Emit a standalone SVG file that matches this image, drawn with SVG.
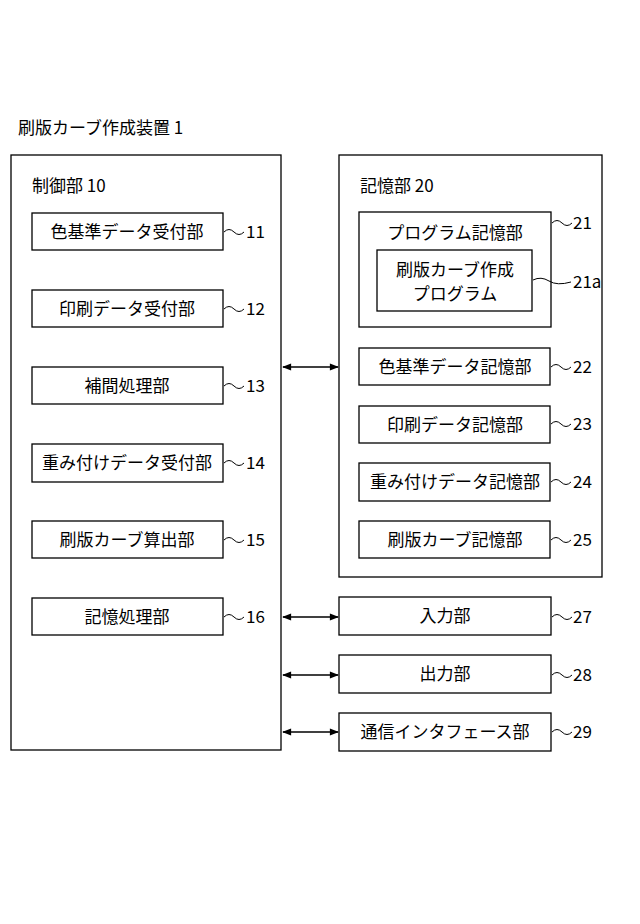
<svg xmlns="http://www.w3.org/2000/svg" width="640" height="924" viewBox="0 0 640 924">
<defs>
<style>
text{font-family:"Noto Sans CJK JP","Noto Sans",sans-serif;font-size:17px;fill:#000}
.c{text-anchor:middle}
rect{fill:#fff;stroke:#000;stroke-width:1.3}
path{fill:none;stroke:#000;stroke-width:1}
.a{stroke-width:1.3;marker-start:url(#h);marker-end:url(#h)}
</style>
<marker id="h" viewBox="0 0 10 10" refX="9" refY="5" markerWidth="11" markerHeight="9" orient="auto-start-reverse" markerUnits="userSpaceOnUse"><path d="M0,1 L10,5 L0,9 z" style="fill:#000;stroke:none"/></marker>
</defs>
<rect width="640" height="924" style="stroke:none"/>
<text x="18" y="134">刷版カーブ作成装置 1</text>
<g id="ctrl"><rect x="11" y="155" width="270" height="595"/><text x="32" y="192">制御部 10</text></g>
<g id="mem"><rect x="339" y="155" width="263" height="422"/><text x="360" y="192">記憶部 20</text></g>
<g id="n11"><rect x="32" y="213" width="191" height="37"/><text class="c" x="127" y="238">色基準データ受付部</text><path d="M224,232 q5,-5 10,0 t10,0"/><text x="246" y="238">11</text></g>
<g id="n12"><rect x="32" y="290" width="191" height="37"/><text class="c" x="127" y="315">印刷データ受付部</text><path d="M224,309 q5,-5 10,0 t10,0"/><text x="246" y="315">12</text></g>
<g id="n13"><rect x="32" y="367" width="191" height="37"/><text class="c" x="127" y="392">補間処理部</text><path d="M224,386 q5,-5 10,0 t10,0"/><text x="246" y="392">13</text></g>
<g id="n14"><rect x="32" y="444" width="191" height="38"/><text class="c" x="127" y="469">重み付けデータ受付部</text><path d="M224,463 q5,-5 10,0 t10,0"/><text x="246" y="469">14</text></g>
<g id="n15"><rect x="32" y="521" width="191" height="37"/><text class="c" x="127" y="546">刷版カーブ算出部</text><path d="M224,540 q5,-5 10,0 t10,0"/><text x="246" y="546">15</text></g>
<g id="n16"><rect x="32" y="598" width="191" height="37"/><text class="c" x="127" y="623">記憶処理部</text><path d="M224,617 q5,-5 10,0 t10,0"/><text x="246" y="623">16</text></g>
<g id="n21"><rect x="359" y="212" width="192" height="115"/><text class="c" x="455" y="239">プログラム記憶部</text><path d="M552,223 q5,-5 10,0 t10,0"/><text x="573" y="229">21</text></g>
<g id="n21a"><rect x="377" y="250" width="155" height="61"/><text class="c" x="455" y="276">刷版カーブ作成</text><text class="c" x="455" y="300">プログラム</text><path d="M533,280 q8,-4 16,1 t22,1"/><text x="573" y="288">21a</text></g>
<g id="n22"><rect x="359" y="348" width="191" height="37"/><text class="c" x="455" y="373">色基準データ記憶部</text><path d="M551,367 q5,-5 10,0 t10,0"/><text x="573" y="373">22</text></g>
<g id="n23"><rect x="359" y="406" width="191" height="37"/><text class="c" x="455" y="431">印刷データ記憶部</text><path d="M551,424 q5,-5 10,0 t10,0"/><text x="573" y="430">23</text></g>
<g id="n24"><rect x="359" y="463" width="191" height="38"/><text class="c" x="455" y="488">重み付けデータ記憶部</text><path d="M551,482 q5,-5 10,0 t10,0"/><text x="573" y="488">24</text></g>
<g id="n25"><rect x="359" y="521" width="191" height="37"/><text class="c" x="455" y="546">刷版カーブ記憶部</text><path d="M551,540 q5,-5 10,0 t10,0"/><text x="573" y="546">25</text></g>
<g id="n27"><rect x="339" y="597" width="212" height="38"/><text class="c" x="445" y="622">入力部</text><path d="M552,617 q5,-5 10,0 t10,0"/><text x="573" y="623">27</text></g>
<g id="n28"><rect x="339" y="655" width="212" height="38"/><text class="c" x="445" y="680">出力部</text><path d="M552,675 q5,-5 10,0 t10,0"/><text x="573" y="681">28</text></g>
<g id="n29"><rect x="339" y="713" width="212" height="38"/><text class="c" x="445" y="738">通信インタフェース部</text><path d="M552,732 q5,-5 10,0 t10,0"/><text x="573" y="738">29</text></g>
<g id="connectors">
<path class="a" d="M283,367 H338"/>
<path class="a" d="M283,617 H338"/>
<path class="a" d="M283,675 H338"/>
<path class="a" d="M283,732 H338"/>
</g>
</svg>
